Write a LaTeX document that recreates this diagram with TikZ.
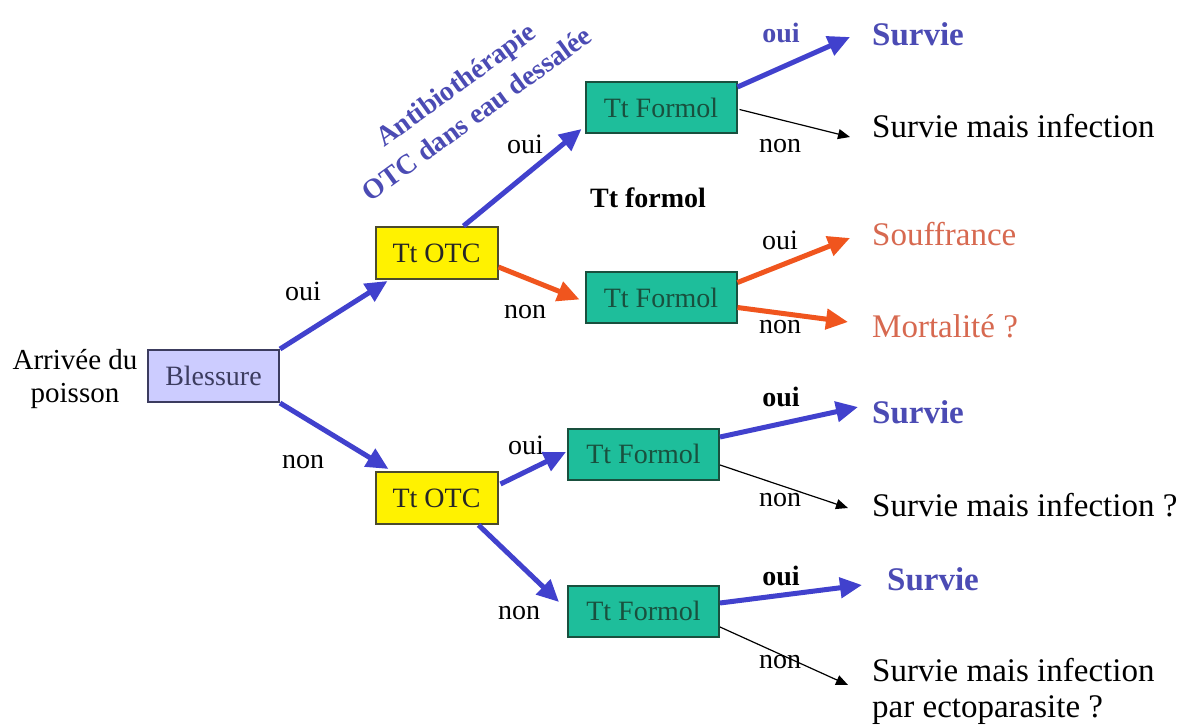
\documentclass[tikz,border=0pt]{standalone}
\usepackage{fontspec}
\setmainfont{Liberation Serif}
\usetikzlibrary{arrows.meta,calc}
\definecolor{blueA}{RGB}{65,65,205}
\definecolor{blueT}{RGB}{75,75,180}
\definecolor{redA}{RGB}{240,85,30}
\definecolor{redT}{RGB}{215,105,80}
\definecolor{tealF}{RGB}{30,190,155}
\definecolor{tealD}{RGB}{25,80,62}
\definecolor{lavF}{RGB}{204,204,255}
\definecolor{lavD}{RGB}{60,60,95}
\definecolor{yelD}{RGB}{75,75,45}
\newcommand\labf{\fontsize{28}{33}\selectfont}
\newcommand\outf{\fontsize{33}{36}\selectfont}
\tikzset{
  box/.style={rectangle, inner sep=0pt, line width=2pt, font=\labf},
  otcbox/.style={box, fill=yellow, draw=yelD, text=black!85, minimum width=122pt, minimum height=52pt},
  formbox/.style={box, fill=tealF, draw=tealD, text=tealD, minimum width=151pt, minimum height=51pt},
  blessbox/.style={box, fill=lavF, draw=lavD, text=lavD, minimum width=131pt, minimum height=52pt},
  lbl/.style={inner sep=0pt, font=\labf},
  blbl/.style={inner sep=0pt, font=\labf\bfseries},
  outc/.style={inner sep=0pt, anchor=west, font=\outf},
  bluearrow/.style={draw=blueA, line width=5pt, -{Triangle[length=22pt,width=20pt]}},
  redarrow/.style={draw=redA, line width=5pt, -{Triangle[length=22pt,width=20pt]}},
  thinarrow/.style={draw=black, line width=1.2pt, -{Triangle[length=12pt,width=10pt]}}
}
\begin{document}
\begin{tikzpicture}[x=1pt,y=-1pt]
\useasboundingbox[fill=white] (0,0) rectangle (1189,728);

% boxes
\node[blessbox] (bl) at (213.5,376) {Blessure};
\node[otcbox] (otc1) at (436.5,253) {Tt OTC};
\node[otcbox] (otc2) at (436.5,498) {Tt OTC};
\node[formbox] (f1) at (661,107.5) {Tt Formol};
\node[formbox] (f2) at (661,297.5) {Tt Formol};
\node[formbox] (f3) at (643.5,454) {Tt Formol};
\node[formbox] (f4) at (643.5,611) {Tt Formol};

% start text
\node[inner sep=0pt, align=center, font=\fontsize{29}{33}\selectfont] (arr) at (75,379) {Arrivée du\\poisson};

% outcomes
\node[outc, text=blueT, font=\outf\bfseries] (s1) at (872,34) {Survie};
\node[outc] (smi1) at (872,126) {Survie mais infection};
\node[outc, text=redT] (souf) at (872,234) {Souffrance};
\node[outc, text=redT] (mort) at (872,326) {Mortalité ?};
\node[outc, text=blueT, font=\outf\bfseries] (s3) at (872,412) {Survie};
\node[outc] (smi2) at (872,505) {Survie mais infection ?};
\node[outc, text=blueT, font=\outf\bfseries] (s4) at (887,579) {Survie};
\node[outc, align=left] (smi3) at (872,691) {Survie mais infection\\par ectoparasite ?};

% rotated title
\node[inner sep=0pt, align=center, text=blueT, rotate=36,
      font=\fontsize{28}{36}\selectfont\bfseries] (title) at (466,99)
      {Antibiothérapie\\OTC dans eau dessalée};
\node[blbl] (ttf) at (648,198) {Tt formol};

% labels
\node[lbl] (l1) at (303,291) {oui};
\node[lbl] (l2) at (303,462) {non};
\node[lbl] (l3) at (525,144) {oui};
\node[lbl] (l4) at (525,312) {non};
\node[blbl, text=blueT] (l5) at (781,33) {oui};
\node[lbl] (l6) at (780,146) {non};
\node[lbl] (l7) at (780,240) {oui};
\node[lbl] (l8) at (780,327) {non};
\node[blbl] (l9) at (781,397) {oui};
\node[lbl] (l10) at (526,445) {oui};
\node[lbl] (l11) at (780,500) {non};
\node[blbl] (l12) at (781,576) {oui};
\node[lbl] (l13) at (519,613) {non};
\node[lbl] (l14) at (780,662) {non};

% connectors
\draw[bluearrow] (bl.north east) -- ($(otc1.south west)+(13,1)$);
\draw[bluearrow] (bl.south east) -- ($(otc2.north west)+(14,-2)$);
\draw[bluearrow] ($(otc1.north)+(27,0)$) -- ($(f1.south west)+(-3,-5)$);
\draw[redarrow] ($(otc1.east)+(0,14)$) -- ($(f2.west)+(-5,2)$);
\draw[bluearrow] ($(otc2.east)+(2,-14)$) -- ($(f3.west)+(-1,-2)$);
\draw[bluearrow] ($(otc2.south)+(42,0)$) -- ($(f4.west)+(-8,-9)$);

\draw[bluearrow] ($(f1.north east)+(0,6)$) -- ($(s1.west)+(-22,3)$);
\draw[thinarrow] ($(f1.east)+(2,2)$) -- ($(smi1.west)+(-22,11)$);
\draw[redarrow] ($(f2.east)+(0,-15)$) -- ($(souf.west)+(-22,4)$);
\draw[redarrow] ($(f2.east)+(0,10)$) -- ($(mort.west)+(-24,-4)$);
\draw[bluearrow] ($(f3.east)+(0,-17)$) -- ($(s3.west)+(-14,-5)$);
\draw[thinarrow] ($(f3.east)+(0,11)$) -- ($(smi2.west)+(-24,3)$);
\draw[bluearrow] ($(f4.east)+(0,-8)$) -- ($(s4.west)+(-25,6)$);
\draw[thinarrow] ($(f4.east)+(0,16)$) -- ($(smi3.west)+(-24,-6)$);
\end{tikzpicture}
\end{document}
